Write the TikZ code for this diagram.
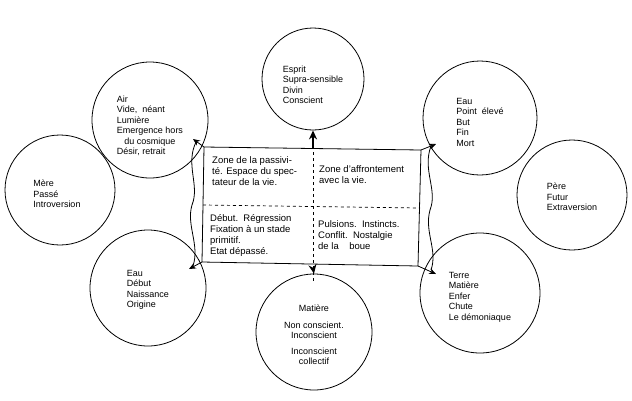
\documentclass[tikz,border=0pt]{standalone}
\usepackage{fontspec}
\setmainfont{Liberation Sans}
\usetikzlibrary{arrows.meta}
\begin{document}
\begin{tikzpicture}[x=1pt,y=-1pt,
  circ/.style={draw,circle,line width=0.8pt},
  lbl/.style={align=left,font=\fontsize{9}{10.5}\selectfont,inner sep=0pt},
  zl/.style={align=left,font=\fontsize{9.5}{11}\selectfont,inner sep=0pt,anchor=north west},
  arr/.style={-{Stealth[length=7pt,width=6pt]},line width=0.8pt},
  bigarr/.style={-{Stealth[length=9pt,width=8pt]},line width=2pt}]
\fill[white] (0,0) rectangle (632,400);
\node[circ,minimum size=102pt] (top) at (313,79) {};
\node[lbl] at ([yshift=-6pt]top) {Esprit\\Supra-sensible\\Divin\\Conscient};
\node[circ,minimum size=116pt] (tl) at (150,120) {};
\node[lbl] at ([yshift=-6pt]tl) {Air\\Vide,\ \ néant\\Lumière\\Emergence hors\\\ \ \ du cosmique\\Désir, retrait};
\node[circ,minimum size=110pt] (l) at (60,190) {};
\node[lbl] at ([xshift=-3pt,yshift=-4pt]l) {Mère\\Passé\\Introversion};
\node[circ,minimum size=116pt] (bl) at (148,288) {};
\node[lbl] at ([yshift=-2pt]bl) {Eau\\Début\\Naissance\\Origine};
\node[circ,minimum size=116pt] (b) at (314,332) {};
\node[lbl,align=center] at ([yshift=-3pt]b) {Matière\\[6pt]Non conscient.\\Inconscient\\[5pt]Inconscient\\collectif};
\node[circ,minimum size=120pt] (br) at (480,293) {};
\node[lbl] at ([yshift=-4pt]br) {Terre\\Matière\\Enfer\\Chute\\Le démoniaque};
\node[circ,minimum size=110pt] (r) at (572,195) {};
\node[lbl] at ([yshift=-2pt]r) {Père\\Futur\\Extraversion};
\node[circ,minimum size=114pt] (tr) at (480,118) {};
\node[lbl] at ([yshift=-4pt]tr) {Eau\\Point\ \ élevé\\But\\Fin\\Mort};
% rectangle
\coordinate (A) at (204,147); \coordinate (B) at (421,150);
\coordinate (C) at (418,266); \coordinate (D) at (202,262);
\draw[line width=0.8pt] (A) -- (B) -- (C) -- (D) -- cycle;
\draw[dashed,line width=0.7pt] (203,205) -- (420,208);
\draw[dashed,line width=0.7pt] (313,140) -- (313,282);
\node[zl] at (212,156) {Zone de la passivi-\\té. Espace du spec-\\tateur de la vie.};
\node[zl] at (319,165) {Zone d'affrontement\\avec la vie.};
\node[zl] at (210,214) {Début.\ \ Régression\\Fixation à un stade\\primitif.\\Etat dépassé.};
\node[zl] at (318,220) {Pulsions.\ \ Instincts.\\Conflit.\ \ Nostalgie\\de la\ \ \ \ boue};
% wavy sides
\draw[line width=0.8pt] (196,142) .. controls (185,165) and (200,185) .. (192,205) .. controls (186,225) and (200,245) .. (193,266);
\draw[line width=0.8pt] (431,146) .. controls (422,170) and (438,190) .. (430,210) .. controls (424,232) and (438,250) .. (431,270);
% arrows
\coordinate (a1) at (193,139); \coordinate (a2) at (436,144);
\coordinate (a3) at (189,269); \coordinate (a4) at (436,274);
\draw[arr] (A) -- (a1);
\draw[arr] (B) -- (a2);
\draw[arr] (D) -- (a3);
\draw[arr] (C) -- (a4);
\draw[bigarr] (313,148) -- (top.south);
\draw[bigarr] (313,268) -- (b.north);
\end{tikzpicture}
\end{document}
